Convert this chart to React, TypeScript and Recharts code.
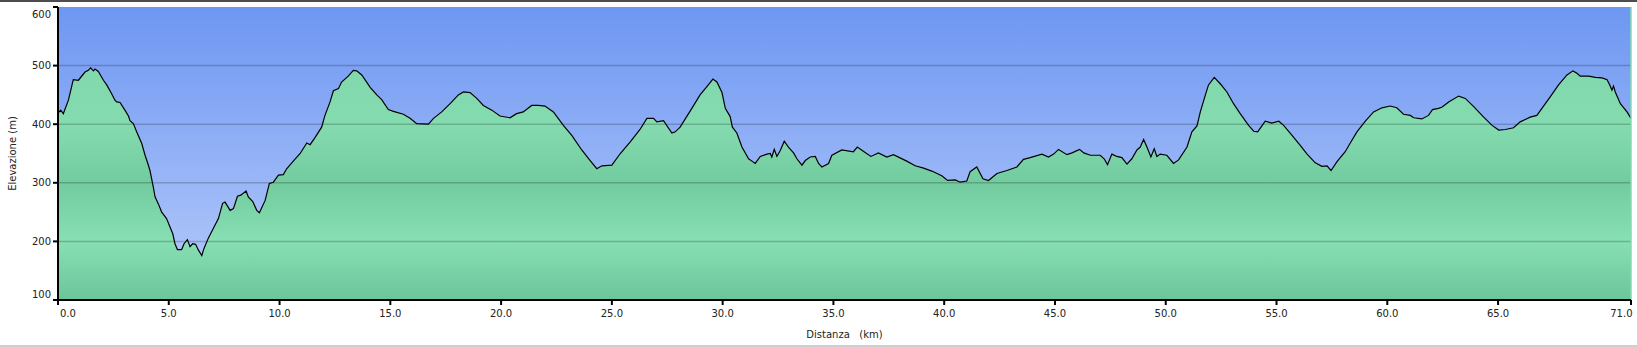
import { Area, AreaChart, CartesianGrid, Label, ReferenceLine, XAxis, YAxis } from "recharts";

// profilo altimetrico: distanza (km) / elevazione (m)
const distanceKm = [
  0, 0.12, 0.24, 0.47, 0.69, 0.92, 1.22, 1.37, 1.47, 1.6, 1.67, 1.82, 2.05, 2.2, 2.42, 2.57, 2.65, 2.8,
  3.02, 3.18, 3.25, 3.4, 3.55, 3.78, 3.93, 4.08, 4.15, 4.3, 4.38, 4.53, 4.68, 4.9, 5.06, 5.18, 5.28, 5.39,
  5.58, 5.69, 5.84, 5.96, 6.08, 6.21, 6.34, 6.49, 6.59, 6.79, 6.98, 7.24, 7.43, 7.54, 7.77, 7.92, 8.1, 8.25,
  8.49, 8.59, 8.79, 8.97, 9.09, 9.35, 9.54, 9.72, 9.95, 10.17, 10.32, 10.62, 10.93, 11.23, 11.38, 11.6, 11.9,
  12.05, 12.28, 12.43, 12.66, 12.8, 13.1, 13.33, 13.48, 13.71, 14.09, 14.39, 14.61, 14.91, 15.14, 15.59,
  15.89, 16.19, 16.72, 16.95, 17.32, 17.7, 18.07, 18.3, 18.6, 18.9, 19.2, 19.58, 19.95, 20.4, 20.7, 21.0,
  21.38, 21.68, 21.98, 22.36, 22.81, 23.19, 23.64, 24.02, 24.32, 24.55, 25.0, 25.38, 25.83, 26.27, 26.58,
  26.88, 27.03, 27.33, 27.71, 27.86, 28.08, 28.61, 28.98, 29.29, 29.56, 29.74, 29.97, 30.12, 30.34, 30.44,
  30.64, 30.87, 31.17, 31.32, 31.47, 31.7, 32.0, 32.15, 32.22, 32.33, 32.45, 32.6, 32.78, 32.97, 33.2, 33.35,
  33.58, 33.73, 33.95, 34.18, 34.33, 34.48, 34.78, 34.93, 35.38, 35.9, 36.08, 36.35, 36.69, 37.03, 37.41,
  37.71, 38.31, 38.69, 39.07, 39.44, 39.89, 40.15, 40.5, 40.72, 41.02, 41.17, 41.47, 41.75, 42.0, 42.38,
  42.83, 43.28, 43.58, 43.88, 44.41, 44.71, 44.94, 45.16, 45.54, 45.77, 46.11, 46.3, 46.6, 47.04, 47.22,
  47.37, 47.57, 47.79, 48.02, 48.25, 48.47, 48.7, 48.85, 49.0, 49.15, 49.33, 49.48, 49.6, 49.75, 50.05,
  50.35, 50.58, 50.96, 51.18, 51.41, 51.56, 51.79, 51.93, 52.19, 52.46, 52.76, 53.06, 53.36, 53.74, 53.97,
  54.15, 54.34, 54.49, 54.79, 55.1, 55.32, 55.7, 56.07, 56.38, 56.75, 57.05, 57.28, 57.46, 57.73, 58.1,
  58.33, 58.63, 59.0, 59.38, 59.76, 60.13, 60.43, 60.73, 61.04, 61.19, 61.56, 61.86, 62.04, 62.31, 62.46,
  62.77, 63.22, 63.52, 63.9, 64.35, 64.73, 65.03, 65.33, 65.7, 66.0, 66.45, 66.75, 66.98, 67.36, 67.73,
  68.11, 68.38, 68.56, 68.71, 69.09, 69.39, 69.69, 69.92, 70.04, 70.14, 70.21, 70.29, 70.52, 70.82, 71.0,
];

const elevationM = [
  419, 424, 418, 441, 476, 475, 489, 492, 496, 491, 494, 490, 475, 467, 452, 441, 438, 437,
  424, 414, 406, 401, 387, 367, 347, 330, 321, 293, 276, 264, 250, 239, 224, 213, 196, 186,
  186, 196, 203, 191, 196, 195, 185, 176, 188, 206, 220, 239, 265, 267, 253, 256, 277, 279,
  286, 276, 268, 253, 249, 270, 299, 301, 313, 314, 324, 337, 350, 368, 365, 377, 395,
  415, 438, 457, 461, 472, 482, 492, 491, 484, 463, 450, 442, 425, 422, 417,
  410, 401, 400, 410, 421, 435, 450, 455, 454, 444, 432, 424, 414, 411, 418, 421,
  432, 432, 431, 421, 398, 381, 356, 338, 324, 329, 330, 350, 370, 391, 410,
  410, 404, 406, 385, 387, 395, 427, 450, 464, 477, 472, 454, 427, 413, 395,
  385, 361, 341, 337, 333, 345, 349, 350, 344, 357, 345, 355, 371, 361, 351, 341,
  330, 338, 344, 345, 333, 327, 333, 347, 356, 353, 361, 354, 345, 351, 344,
  348, 337, 329, 325, 320, 312, 304, 305, 301, 303, 319, 327, 307, 304, 316,
  321, 327, 340, 343, 349, 344, 349, 357, 348, 351, 357, 351, 347, 347, 341,
  331, 349, 345, 343, 332, 341, 356, 361, 374, 361, 344, 358, 345, 349, 347,
  333, 339, 361, 387, 397, 421, 450, 467, 480, 469, 455, 435, 418, 398, 388,
  387, 397, 405, 402, 405, 398, 381, 364, 349, 334, 328, 329, 321, 336, 353,
  368, 387, 405, 421, 428, 431, 428, 417, 415, 411, 409, 415, 425, 427, 429,
  438, 448, 444, 430, 412, 398, 390, 391, 394, 404, 412, 415, 427, 447, 467,
  484, 491, 487, 482, 482, 480, 479, 476, 467, 458, 465, 455, 435, 421, 410,
];

const xTicks = [0, 5, 10, 15, 20, 25, 30, 35, 40, 45, 50, 55, 60, 65, 71];
const yTicks = [100, 200, 300, 400, 500, 600];
const gridLevels = [200, 300, 400, 500];

const profile = distanceKm.map((d, i) => ({ d, e: elevationM[i] }));

const font = "'DejaVu Sans', Verdana, sans-serif";

function YTick(props: any) {
  const { x, y, payload } = props;
  const v = payload.value;
  const shift = v === 600 ? 7.5 : v === 100 ? -6 : 0;
  return (
    <text x={x} y={y + shift} dy="0.35em" textAnchor="end" fontSize={10} fontFamily={font} fill="#222">
      {v}
    </text>
  );
}

function XTick(props: any) {
  const { x, y, payload } = props;
  const v = payload.value;
  let anchor = "middle";
  let dx = 0;
  if (v === 0) {
    anchor = "start";
    dx = 2;
  } else if (v === 71) {
    anchor = "end";
    dx = 1.5;
  }
  return (
    <text x={x + dx} y={y + 8} textAnchor={anchor} fontSize={10} fontFamily={font} fill="#222">
      {v.toFixed(1)}
    </text>
  );
}

export default function App() {
  return (
    <div style={{ position: "absolute", left: 0, top: 0, width: 1637, height: 347, background: "#fff" }}>
      <div style={{ position: "absolute", left: 0, top: 0, width: 1637, height: 2, background: "#4d4d4d" }} />
      <div style={{ position: "absolute", left: 0, top: 345, width: 1637, height: 1.5, background: "#cfcfcf" }} />
      <AreaChart width={1637} height={347} data={profile} margin={{ top: 7, right: 6, left: 0, bottom: 0 }}>
        <defs>
          <linearGradient id="sky" x1="0" y1="0" x2="0" y2="1">
            <stop offset="0%" stopColor="#6e97f2" />
            <stop offset="100%" stopColor="#b6cbfa" />
          </linearGradient>
          <linearGradient id="ground" gradientUnits="userSpaceOnUse" x1="0" y1="7" x2="0" y2="300">
            <stop offset="0%" stopColor="#7ed5a9" />
            <stop offset="40%" stopColor="#84dbaf" />
            <stop offset="60%" stopColor="#72cc9f" />
            <stop offset="80%" stopColor="#87dfb3" />
            <stop offset="100%" stopColor="#6cc69b" />
          </linearGradient>
        </defs>
        <CartesianGrid horizontal={false} vertical={false} fill="url(#sky)" />
        <XAxis
          dataKey="d"
          type="number"
          domain={[0, 71]}
          ticks={xTicks}
          interval={0}
          height={47}
          tickSize={5}
          tickMargin={4}
          axisLine={{ stroke: "#000", strokeWidth: 2 }}
          tickLine={{ stroke: "#000", strokeWidth: 2 }}
          tick={<XTick />}
        >
          <Label
            content={(p: any) => {
              const vb = p.viewBox;
              return (
                <text
                  x={vb.x + vb.width / 2}
                  y={334}
                  dominantBaseline="central"
                  textAnchor="middle"
                  fontSize={10}
                  fontFamily={font}
                  fill="#222"
                  xmlSpace="preserve"
                  style={{ whiteSpace: "pre" }}
                >
                  {"Distanza   (km)"}
                </text>
              );
            }}
          />
        </XAxis>
        <YAxis
          type="number"
          domain={[100, 600]}
          ticks={yTicks}
          interval={0}
          width={58}
          tickSize={5}
          tickMargin={2}
          allowDataOverflow
          axisLine={{ stroke: "#000", strokeWidth: 2 }}
          tickLine={{ stroke: "#000", strokeWidth: 2 }}
          tick={<YTick />}
        >
          <Label
            content={(p: any) => {
              const vb = p.viewBox;
              const cy = vb.y + vb.height / 2;
              return (
                <text
                  x={12.5}
                  y={cy}
                  transform={`rotate(-90 12.5 ${cy})`}
                  dominantBaseline="central"
                  textAnchor="middle"
                  fontSize={10}
                  fontFamily={font}
                  fill="#222"
                >
                  Elevazione (m)
                </text>
              );
            }}
          />
        </YAxis>
        <Area
          type="linear"
          dataKey="e"
          stroke="#000"
          strokeWidth={1.2}
          fill="url(#ground)"
          fillOpacity={1}
          isAnimationActive={false}
          dot={false}
          activeDot={false}
        />
        {gridLevels.map((v) => (
          <ReferenceLine key={v} y={v} stroke="#000" strokeOpacity={0.2} strokeWidth={1.5} />
        ))}
        <ReferenceLine x={71} stroke="#7fdcae" strokeWidth={1.5} />
      </AreaChart>
    </div>
  );
}
